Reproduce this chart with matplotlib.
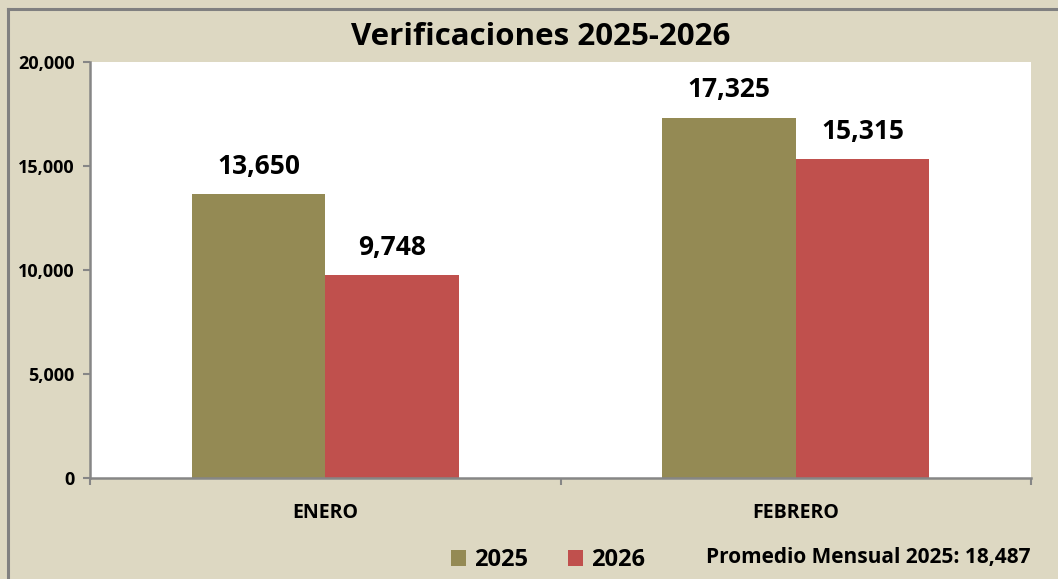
import matplotlib.pyplot as plt
from matplotlib.ticker import FuncFormatter, MultipleLocator

# Data
months = ["ENERO", "FEBRERO"]
series_names = ["2025", "2026"]
values_2025 = [13650, 17325]
values_2026 = [9748, 15315]
monthly_avg_2025 = 18487

title = "Verificaciones 2025-2026"
bg = "#DDD8C2"
colors = ["#948A54", "#C0504D"]
axis_gray = "#868686"

plt.rcParams["font.family"] = ["Open Sans", "DejaVu Sans"]

W, H = 1058, 579
fig = plt.figure(figsize=(W / 100, H / 100), dpi=100)
fig.patch.set_facecolor(bg)

# chart frame (left and top edges visible)
fig.add_artist(plt.Line2D([8 / W, 8 / W], [0, 1 - 9 / H], transform=fig.transFigure,
                          color="#808080", lw=2.2))
fig.add_artist(plt.Line2D([8 / W, 1], [1 - 9 / H, 1 - 9 / H], transform=fig.transFigure,
                          color="#808080", lw=2.2))

left, right, top, bottom = 90, 1031, 62, 478
ax = fig.add_axes([left / W, 1 - bottom / H, (right - left) / W, (bottom - top) / H])
ax.set_facecolor("white")

x = range(len(months))
bw = 0.284
b1 = ax.bar([i - bw / 2 for i in x], values_2025, width=bw, color=colors[0],
            label=series_names[0])
b2 = ax.bar([i + bw / 2 for i in x], values_2026, width=bw, color=colors[1],
            label=series_names[1])

for bars, vals in ((b1, values_2025), (b2, values_2026)):
    for rect, v in zip(bars, vals):
        ax.annotate(f"{v:,}", (rect.get_x() + rect.get_width() / 2, v),
                    xytext=(0, 20), textcoords="offset points", ha="center",
                    va="center", fontsize=19, fontweight="bold", color="black")

ax.set_xlim(-0.5, 1.5)
ax.set_ylim(0, 20000)
ax.yaxis.set_major_locator(MultipleLocator(5000))
ax.yaxis.set_major_formatter(FuncFormatter(lambda v, p: f"{int(v):,}"))

ax.set_xticks(list(x))
ax.set_xticklabels(months)
ax.set_xticks([-0.5, 0.5, 1.5], minor=True)
ax.tick_params(axis="x", which="major", length=0, pad=18, labelsize=14)
ax.tick_params(axis="x", which="minor", length=5, width=1.5, color=axis_gray, direction="out")
ax.tick_params(axis="y", length=5, width=1.5, color=axis_gray, pad=6, labelsize=13)
for lab in ax.get_xticklabels() + ax.get_yticklabels():
    lab.set_fontweight("bold")

for s in ("top", "right"):
    ax.spines[s].set_visible(False)
for s in ("left", "bottom"):
    ax.spines[s].set_color(axis_gray)
    ax.spines[s].set_linewidth(1.8)

fig.text(541 / W, 1 - 37 / H, title, ha="center", va="center", fontsize=22.5,
         fontweight="bold")

leg = fig.legend(handles=[b1, b2], labels=series_names, loc="center left",
                 bbox_to_anchor=(451 / W, 1 - 560 / H), ncol=2, frameon=False,
                 prop={"size": 17, "weight": "bold"}, handlelength=0.64,
                 handleheight=0.64, handletextpad=0.34,
                 columnspacing=1.7, borderaxespad=0, borderpad=0)

fig.text(1030 / W, 1 - 557 / H, f"Promedio Mensual 2025: {monthly_avg_2025:,}",
         ha="right", va="center", fontsize=15, fontweight="bold")

fig.savefig("out.png", dpi=100, facecolor=bg)
